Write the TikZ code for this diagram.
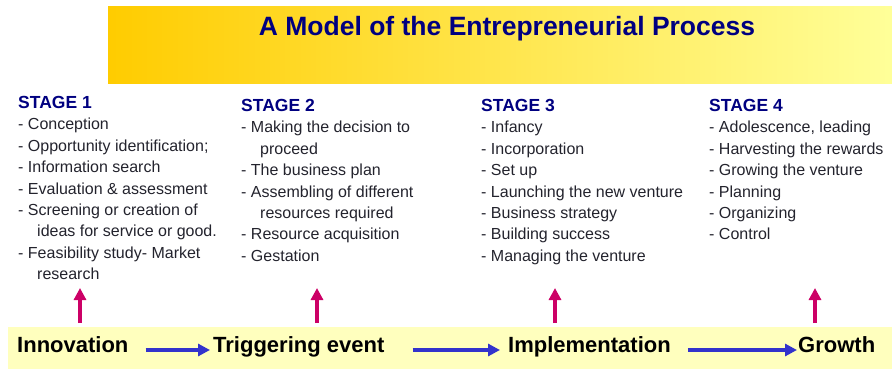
\documentclass[tikz,border=0pt]{standalone}
\usepackage{fontspec}
\setmainfont{Liberation Sans}
\usepackage{tikz}
\usetikzlibrary{arrows.meta}

\definecolor{headblue}{RGB}{0,0,128}
\definecolor{itemgray}{RGB}{35,35,45}
\definecolor{flowblue}{RGB}{51,51,204}
\definecolor{risered}{RGB}{204,0,102}
\definecolor{bandyellow}{RGB}{255,255,190}
\definecolor{bannerleft}{RGB}{255,204,0}
\definecolor{bannerright}{RGB}{255,255,153}

\newcommand{\stagehead}[1]{{\fontsize{17.5}{21.4}\selectfont\bfseries\color{headblue}#1}}
\newcommand{\cont}{\hspace*{19pt}}

\tikzset{
	stage/.style={anchor=north west,align=left,inner sep=0pt,text=itemgray,font=\fontsize{16}{21.4}\selectfont},
	phase/.style={anchor=base west,inner sep=0pt,font=\fontsize{22}{26}\selectfont\bfseries},
	flow/.style={draw=flowblue,line width=4.5pt,-{Triangle[length=12pt,width=12pt]}},
	rise/.style={draw=risered,line width=3.5pt,-{Triangle[length=12pt,width=12pt]}}
}

\begin{document}
\begin{tikzpicture}[x=1pt,y=-1pt]
		\useasboundingbox (0,0) rectangle (892,369);
		%banner and band
		\shade[left color=bannerleft,right color=bannerright] (108,7) rectangle (892,84);
		\fill[bandyellow] (8,327) rectangle (892,369);
		\node[text=headblue,font=\fontsize{26.5}{30}\selectfont\bfseries] (Title) at (507,29) {A Model of the Entrepreneurial Process};
		%the four stages
		\node[stage] (Stage1) at (18,96) {\stagehead{STAGE 1}\\- Conception\\- Opportunity identification;\\- Information search\\- Evaluation \& assessment\\- Screening or creation of\\\cont ideas for service or good.\\- Feasibility study- Market\\\cont research};
		\node[stage] (Stage2) at (241,99) {\stagehead{STAGE 2}\\- Making the decision to\\\cont proceed\\- The business plan\\- Assembling of different\\\cont resources required\\- Resource acquisition\\- Gestation};
		\node[stage] (Stage3) at (481,99) {\stagehead{STAGE 3}\\- Infancy\\- Incorporation\\- Set up\\- Launching the new venture\\- Business strategy\\- Building success\\- Managing the venture};
		\node[stage] (Stage4) at (709,99) {\stagehead{STAGE 4}\\- Adolescence, leading\\- Harvesting the rewards\\- Growing the venture\\- Planning\\- Organizing\\- Control};
		%phases along the band
		\node[phase] (Innovation) at (17,352) {Innovation};
		\node[phase] (Trigger) at (213,352) {Triggering event};
		\node[phase] (Implementation) at (508,352) {Implementation};
		\node[phase] (Growth) at (798,352) {Growth};
		\draw[flow] ([shift={(17,-2)}]Innovation.base east) -- ([shift={(-3,-2)}]Trigger.base west);
		\draw[flow] ([shift={(28,-2)}]Trigger.base east) -- ([shift={(-8,-2)}]Implementation.base west);
		\draw[flow] ([shift={(17,-2)}]Implementation.base east) -- ([shift={(-1,-2)}]Growth.base west);
		%arrows up to the stages
		\foreach \i/\x in {1/80,2/317,3/555,4/815}
			\coordinate (Up\i) at (\x,323);
		\foreach \i in {1,...,4}
			\draw[rise] (Up\i) -- ++(0,-35);
	\end{tikzpicture}
\end{document}
